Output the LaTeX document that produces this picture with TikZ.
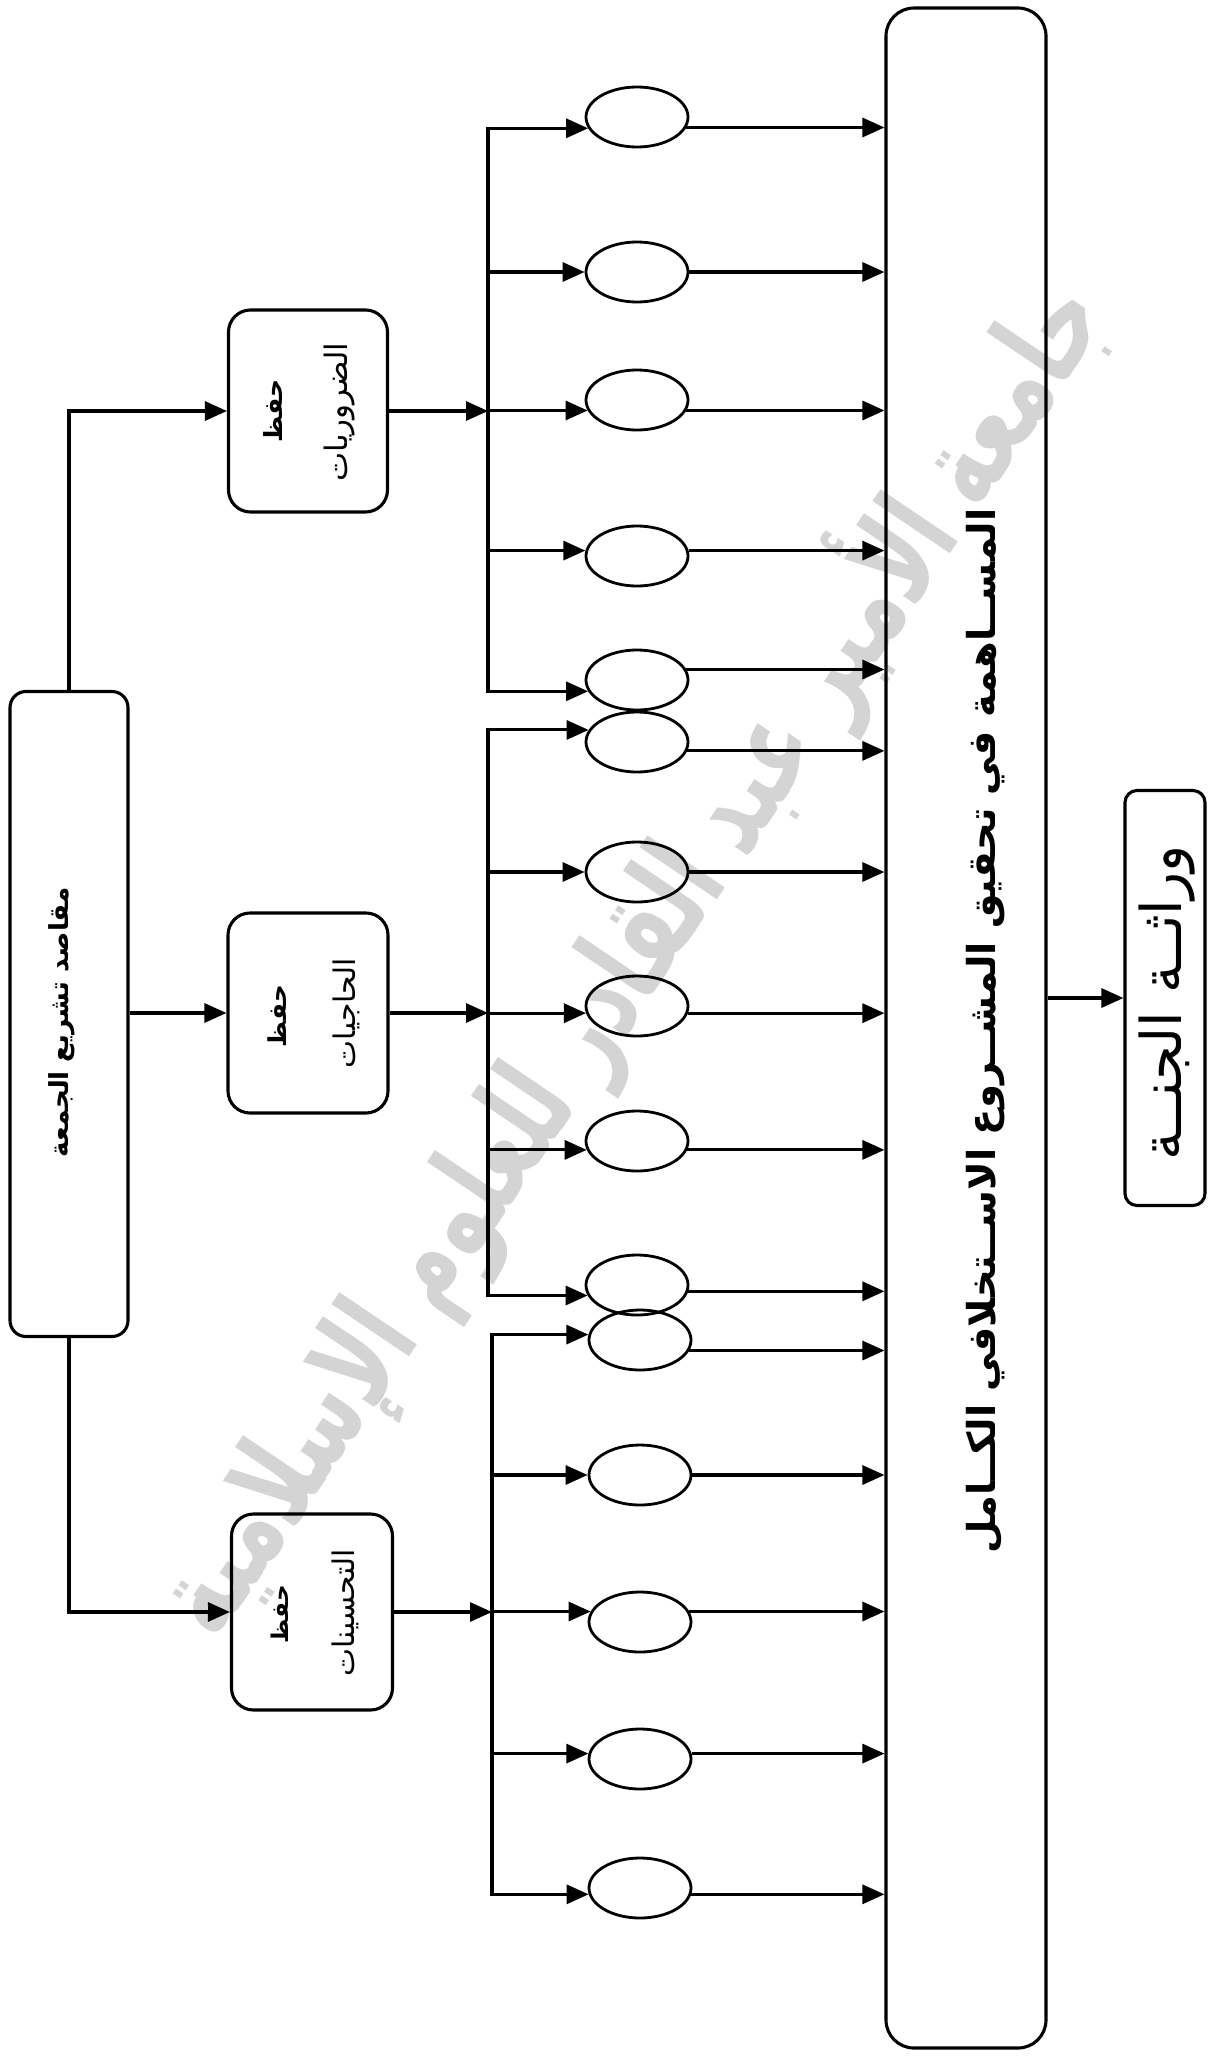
\documentclass[tikz,border=0pt]{standalone}
\usepackage{fontspec}
\usepackage{graphicx}
\usetikzlibrary{shapes.geometric,arrows.meta}
\TeXXeTstate=1
\newfontfamily\arabicfont[Script=Arabic]{DejaVu Sans}
% right-to-left Arabic text, stretched to a given length
\newcommand{\artext}[1]{{\arabicfont\beginR #1\endR}}
\newcommand{\fitar}[2]{\resizebox{#1}{!}{\artext{#2}}}
\newcommand{\fitarb}[2]{\resizebox{#1}{!}{{\arabicfont\bfseries\beginR #2\endR}}}
\newcommand{\tallarb}[2]{\resizebox{#1}{!}{\scalebox{1}[1.5]{{\arabicfont\bfseries\beginR #2\endR}}}}

\begin{document}
\begin{tikzpicture}[x=1pt,y=1pt,
  line width=3.1pt, line join=miter,
  box/.style={draw, rectangle, inner sep=0pt, rounded corners=22pt},
  oval/.style={draw, ellipse, minimum width=102pt, minimum height=60pt, inner sep=0pt, line width=2.8pt},
  arr/.style={-{Triangle[length=22pt,width=19pt]}},
  bus/.style={line cap=rect},
  lbl/.style={rotate=90, inner sep=0pt}]

\useasboundingbox (0,0) rectangle (1209,-2056);

% university watermark across the page
\node[rotate=56, inner sep=0pt, text=black!17] (wm) at (628,-955)
  {\tallarb{1600pt}{جامعة الأمير عبد القادر للعلوم الإسلامية}};

% main boxes
\node[box, minimum width=118pt, minimum height=645pt, rounded corners=16pt] (m) at (69,-1014) {};
\node[box, minimum width=159pt, minimum height=202pt] (h1) at (308,-411) {};
\node[box, minimum width=160pt, minimum height=200pt] (h2) at (308,-1013) {};
\node[box, minimum width=161pt, minimum height=196pt] (h3) at (312,-1612) {};
\node[box, minimum width=160pt, minimum height=2040pt, rounded corners=28pt] (big) at (966,-1028) {};
\node[box, minimum width=80pt, minimum height=415pt, rounded corners=12pt] (jn) at (1165,-998) {};

% labels
\node[lbl] (tm) at (62,-1022) {\fitarb{270pt}{مقاصد تشريع الجمعة}};
\node[lbl] (t1a) at (273,-411) {\fitarb{63pt}{حفظ}};
\node[lbl] (t1b) at (340,-412) {\fitar{139pt}{الضروريات}};
\node[lbl] (t2a) at (277,-1016) {\fitarb{62pt}{حفظ}};
\node[lbl] (t2b) at (346,-1013) {\fitar{110pt}{الحاجيات}};
\node[lbl] (t3a) at (280,-1614) {\fitarb{58pt}{حفظ}};
\node[lbl] (t3b) at (345,-1613) {\fitar{127pt}{التحسينات}};
\node[lbl] (tb) at (986,-1031) {\fitarb{1045pt}{المســاهمة في تحقيق المشــروع الاســتخلافي الكــامل}};
\node[lbl] (tj) at (1167,-1003) {\fitar{315pt}{وراثــة الجنــة}};

% ovals
\foreach \n/\x/\y in {1/637/117, 2/637/272, 3/637/400, 4/637/556, 5/637/680,
                      6/637/742, 7/637/872, 8/637/1006, 9/637/1141, 10/637/1285,
                      11/640/1340, 12/640/1475, 13/640/1622, 14/640/1759, 15/640/1888}
  \node[oval] (e\n) at (\x,-\y) {};

% bus columns
\coordinate (c1) at (488,0);
\coordinate (c2) at (488,0);
\coordinate (c3) at (492,0);

% goals branch off the main box
\draw[arr] (m.north) |- (h1.west);
\draw[arr] (m.east |- h2.west) -- (h2.west);
\draw[arr] (m.south) |- (h3.west);

% each goal feeds its bus
\draw[arr] (h1.east) -- (h1.east -| c1);
\draw[arr] (h2.east) -- (h2.east -| c2);
\draw[arr] (h3.east) -- (h3.east -| c3);

% bus lines
\draw[bus] (e1.193 -| c1) -- (e5.193 -| c1);
\draw[bus] (e6.166 -| c2) -- (e10.192 -| c2);
\draw[bus] (e11.174 -| c3) -- (e15.187 -| c3);

% bus to ovals, ovals to the big box
\foreach \n/\a/\b/\c in {1/193/-12/c1, 2/180/0/c1, 3/192/-12/c1, 4/174/6/c1, 5/193/12/c1,
                         6/166/-10/c2, 7/180/0/c2, 8/188/-8/c2, 9/190/-10/c2, 10/192/-7/c2,
                         11/174/-12/c3, 12/180/0/c3, 13/168/12/c3, 14/174/6/c3, 15/187/-7/c3}
{
  \draw[arr] (e\n.\a -| \c) -- (e\n.\a);
  \draw[arr] (e\n.\b) -- (e\n.\b -| big.west);
}

% big box to the final result
\draw[arr] (big.east |- jn.west) -- (jn.west);
\end{tikzpicture}
\end{document}
